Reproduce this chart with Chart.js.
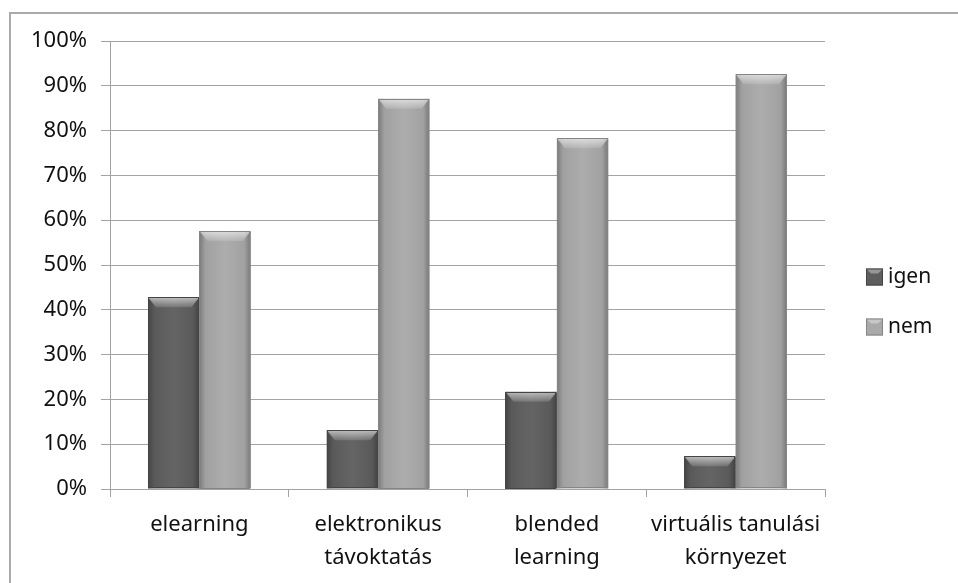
<!DOCTYPE html>
<html>
<head>
<meta charset="utf-8">
<script src="https://cdn.jsdelivr.net/npm/chart.js@4/dist/chart.umd.min.js"></script>
<style>
  html, body { margin: 0; padding: 0; background: #fff; }
  #wrap { position: relative; width: 958px; height: 583px; overflow: hidden; }
  #frame { position: absolute; left: 9px; top: 12px; width: 1000px; height: 700px;
           border-left: 2px solid #aaaaaa; border-top: 2px solid #aaaaaa; }
  canvas { position: absolute; left: 0; top: 0; }
</style>
</head>
<body>
<div id="wrap">
  <div id="frame"></div>
  <canvas id="chart" width="958" height="583"></canvas>
</div>
<script>
// data
const categories = [
  "elearning",
  ["elektronikus", "távoktatás"],
  ["blended", "learning"],
  ["virtuális tanulási", "környezet"]
];
const igenValues = [42.8, 13.1, 21.7, 7.3];
const nemValues = [57.6, 87.1, 78.3, 92.6];
const seriesNames = ["igen", "nem"];
const yTicks = [0, 10, 20, 30, 40, 50, 60, 70, 80, 90, 100];

const FONT = "'Noto Sans', 'DejaVu Sans', sans-serif";
const GRID = "#a3a3a3";
const TEXT = "#111111";

// 🎨 bevel + side shading on every bar, a bit like the old Excel look
const bevelPlugin = {
  id: "bevel",
  afterDatasetsDraw(chart) {
    const ctx = chart.ctx;
    chart.data.datasets.forEach((ds, i) => {
      const meta = chart.getDatasetMeta(i);
      meta.data.forEach(bar => {
        const left = bar.x - bar.width / 2;
        const right = bar.x + bar.width / 2;
        const top = bar.y;
        const bottom = bar.base;
        ctx.save();
        const g = ctx.createLinearGradient(left, 0, right, 0);
        g.addColorStop(0, "rgba(0,0,0,0.28)");
        g.addColorStop(0.12, "rgba(0,0,0,0.05)");
        g.addColorStop(0.5, "rgba(255,255,255,0.04)");
        g.addColorStop(0.88, "rgba(0,0,0,0.05)");
        g.addColorStop(1, "rgba(0,0,0,0.3)");
        ctx.fillStyle = g;
        ctx.fillRect(left, top, right - left, bottom - top);

        const b = Math.min(10, (bottom - top) / 2);
        ctx.beginPath();
        ctx.moveTo(left, top);
        ctx.lineTo(right, top);
        ctx.lineTo(right - 8, top + b);
        ctx.lineTo(left + 8, top + b);
        ctx.closePath();
        const tg = ctx.createLinearGradient(0, top, 0, top + b);
        tg.addColorStop(0, "rgba(255,255,255,0.6)");
        tg.addColorStop(1, "rgba(255,255,255,0.12)");
        ctx.fillStyle = tg;
        ctx.fill();

        ctx.strokeStyle = i === 0 ? "#454545" : "#858585";
        ctx.lineWidth = 1;
        ctx.strokeRect(Math.round(left) + 0.5, Math.round(top) + 0.5,
          Math.round(right - left) - 1, Math.round(bottom - top) - 1);
        ctx.restore();
      });
    });
  }
};

// 🧾 simple legend on the right
const sideLegend = {
  id: "sideLegend",
  afterDraw(chart) {
    const ctx = chart.ctx;
    const x = 866, y0 = 277, gap = 50, box = 17;
    chart.data.datasets.forEach((ds, i) => {
      const y = y0 + i * gap;
      ctx.save();
      ctx.fillStyle = ds.backgroundColor;
      ctx.fillRect(x, y - box / 2, box, box);
      ctx.fillStyle = "rgba(255,255,255,0.35)";
      ctx.beginPath();
      ctx.moveTo(x, y - box / 2);
      ctx.lineTo(x + box, y - box / 2);
      ctx.lineTo(x + box - 5, y - box / 2 + 5);
      ctx.lineTo(x + 5, y - box / 2 + 5);
      ctx.fill();
      ctx.strokeStyle = i === 0 ? "#454545" : "#858585";
      ctx.strokeRect(x + 0.5, y - box / 2 + 0.5, box - 1, box - 1);
      ctx.fillStyle = TEXT;
      ctx.font = "21px " + FONT;
      ctx.textBaseline = "middle";
      ctx.fillText(ds.label, x + box + 5, y);
      ctx.restore();
    });
  }
};

new Chart(document.getElementById("chart"), {
  type: "bar",
  data: {
    labels: categories,
    datasets: [
      { label: seriesNames[0], data: igenValues, backgroundColor: "#5e5e5e" },
      { label: seriesNames[1], data: nemValues, backgroundColor: "#a9a9a9" }
    ]
  },
  options: {
    responsive: false,
    animation: false,
    layout: { padding: { left: 0, top: 41, right: 133, bottom: 0 } },
    categoryPercentage: 0.575,
    barPercentage: 1.0,
    plugins: {
      legend: { display: false },
      tooltip: { enabled: false }
    },
    scales: {
      x: {
        afterFit: s => { s.height = 94; },
        grid: { offset: true, drawOnChartArea: false, tickLength: 8, color: GRID },
        border: { color: GRID },
        ticks: {
          color: TEXT,
          padding: 11,
          maxRotation: 0,
          autoSkip: false,
          font: { family: FONT, size: 22, lineHeight: 1.5 }
        }
      },
      y: {
        min: yTicks[0],
        max: yTicks[yTicks.length - 1],
        afterFit: s => { s.width = 110; },
        afterBuildTicks: s => { s.ticks = yTicks.map(v => ({ value: v })); },
        grid: { color: GRID, tickLength: 9 },
        border: { color: GRID },
        ticks: {
          color: TEXT,
          padding: 14,
          font: { family: FONT, size: 22 },
          callback: v => v + "%"
        }
      }
    }
  },
  plugins: [bevelPlugin, sideLegend]
});
</script>
</body>
</html>
